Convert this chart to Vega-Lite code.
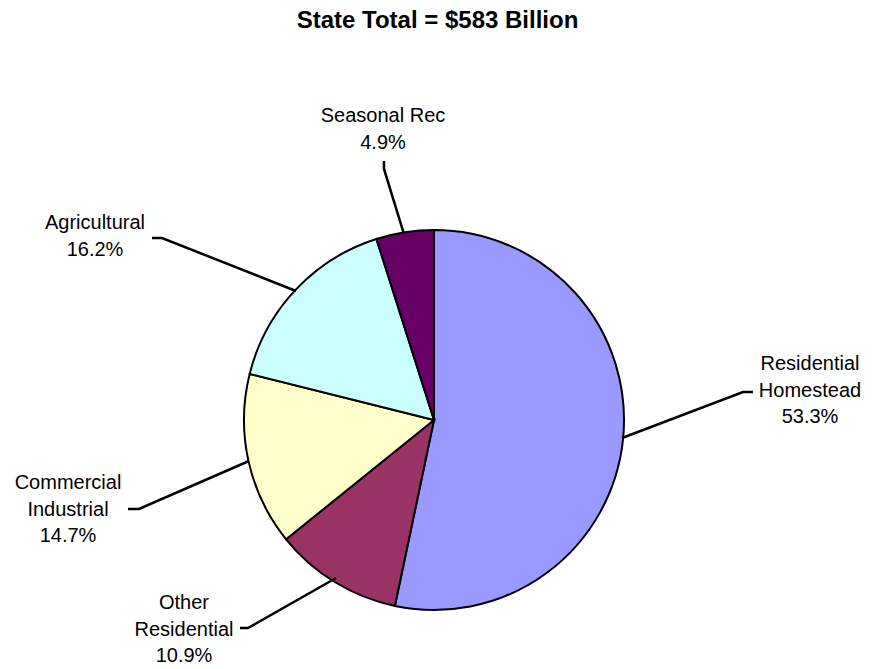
{
  "$schema": "https://vega.github.io/schema/vega-lite/v6.json",
  "width": 875,
  "height": 669,
  "autosize": "none",
  "padding": 0,
  "background": "white",
  "config": {"view": {"stroke": null}, "font": "Liberation Sans"},
  "title": {"text": "State Total = $583 Billion", "fontSize": 24, "fontWeight": "bold", "font": "Liberation Sans", "color": "black", "anchor": "middle", "frame": "group", "offset": -33},
  "datasets": {
    "slices": [
      {"name": "Residential Homestead", "pct": 53.3, "ord": 1},
      {"name": "Other Residential", "pct": 10.9, "ord": 2},
      {"name": "Commercial Industrial", "pct": 14.7, "ord": 3},
      {"name": "Agricultural", "pct": 16.2, "ord": 4},
      {"name": "Seasonal Rec", "pct": 4.9, "ord": 5}
    ],
    "leaders": [
      {"name": "Seasonal Rec", "seq": 1, "u": -0.2632, "v": 1.3632},
      {"name": "Seasonal Rec", "seq": 2, "u": -0.2632, "v": 1.3211},
      {"name": "Seasonal Rec", "seq": 3, "u": -0.1579, "v": 0.9789},
      {"name": "Agricultural", "seq": 1, "u": -1.4842, "v": 0.9579},
      {"name": "Agricultural", "seq": 2, "u": -1.4316, "v": 0.9579},
      {"name": "Agricultural", "seq": 3, "u": -0.7263, "v": 0.6789},
      {"name": "Residential Homestead", "seq": 1, "u": 1.6789, "v": 0.1474},
      {"name": "Residential Homestead", "seq": 2, "u": 1.6263, "v": 0.1474},
      {"name": "Residential Homestead", "seq": 3, "u": 0.9895, "v": -0.0947},
      {"name": "Commercial Industrial", "seq": 1, "u": -1.6105, "v": -0.4684},
      {"name": "Commercial Industrial", "seq": 2, "u": -1.5526, "v": -0.4684},
      {"name": "Commercial Industrial", "seq": 3, "u": -0.9737, "v": -0.2158},
      {"name": "Other Residential", "seq": 1, "u": -1.0211, "v": -1.0947},
      {"name": "Other Residential", "seq": 2, "u": -0.9789, "v": -1.0947},
      {"name": "Other Residential", "seq": 3, "u": -0.5158, "v": -0.8316}
    ],
    "labels": [
      {"name": "Seasonal Rec", "label": "Seasonal Rec\n4.9%", "u": -0.2684, "v": 1.6},
      {"name": "Agricultural", "label": "Agricultural\n16.2%", "u": -1.7842, "v": 1.0368},
      {"name": "Residential Homestead", "label": "Residential\nHomestead\n53.3%", "u": 1.9789, "v": 0.2947},
      {"name": "Commercial Industrial", "label": "Commercial\nIndustrial\n14.7%", "u": -1.9263, "v": -0.3316},
      {"name": "Other Residential", "label": "Other\nResidential\n10.9%", "u": -1.3158, "v": -0.9632}
    ]
  },
  "layer": [
    {
      "data": {"name": "slices"},
      "mark": {"type": "arc", "radius": 190, "stroke": "black", "strokeWidth": 2},
      "encoding": {
        "x": {"datum": 0, "type": "quantitative", "scale": {"domain": [-2.28421, 2.32105], "nice": false, "zero": false}, "axis": null},
        "y": {"datum": 0, "type": "quantitative", "scale": {"domain": [-1.31053, 2.21053], "nice": false, "zero": false}, "axis": null},
        "theta": {"field": "pct", "type": "quantitative", "stack": true},
        "order": {"field": "ord", "type": "quantitative"},
        "color": {"field": "name", "type": "nominal", "legend": null,
          "scale": {"domain": ["Residential Homestead", "Other Residential", "Commercial Industrial", "Agricultural", "Seasonal Rec"],
                    "range": ["#9999FF", "#993366", "#FFFFCC", "#CCFFFF", "#660066"]}}
      }
    },
    {
      "data": {"name": "leaders"},
      "mark": {"type": "line", "color": "black", "strokeWidth": 2.5},
      "encoding": {
        "x": {"field": "u", "type": "quantitative"},
        "y": {"field": "v", "type": "quantitative"},
        "detail": {"field": "name", "type": "nominal"},
        "order": {"field": "seq", "type": "quantitative"}
      }
    },
    {
      "data": {"name": "labels"},
      "mark": {"type": "text", "align": "center", "baseline": "middle", "lineBreak": "\n", "lineHeight": 26.5, "fontSize": 20, "font": "Liberation Sans", "color": "black"},
      "encoding": {
        "x": {"field": "u", "type": "quantitative"},
        "y": {"field": "v", "type": "quantitative"},
        "text": {"field": "label", "type": "nominal"}
      }
    }
  ]
}
